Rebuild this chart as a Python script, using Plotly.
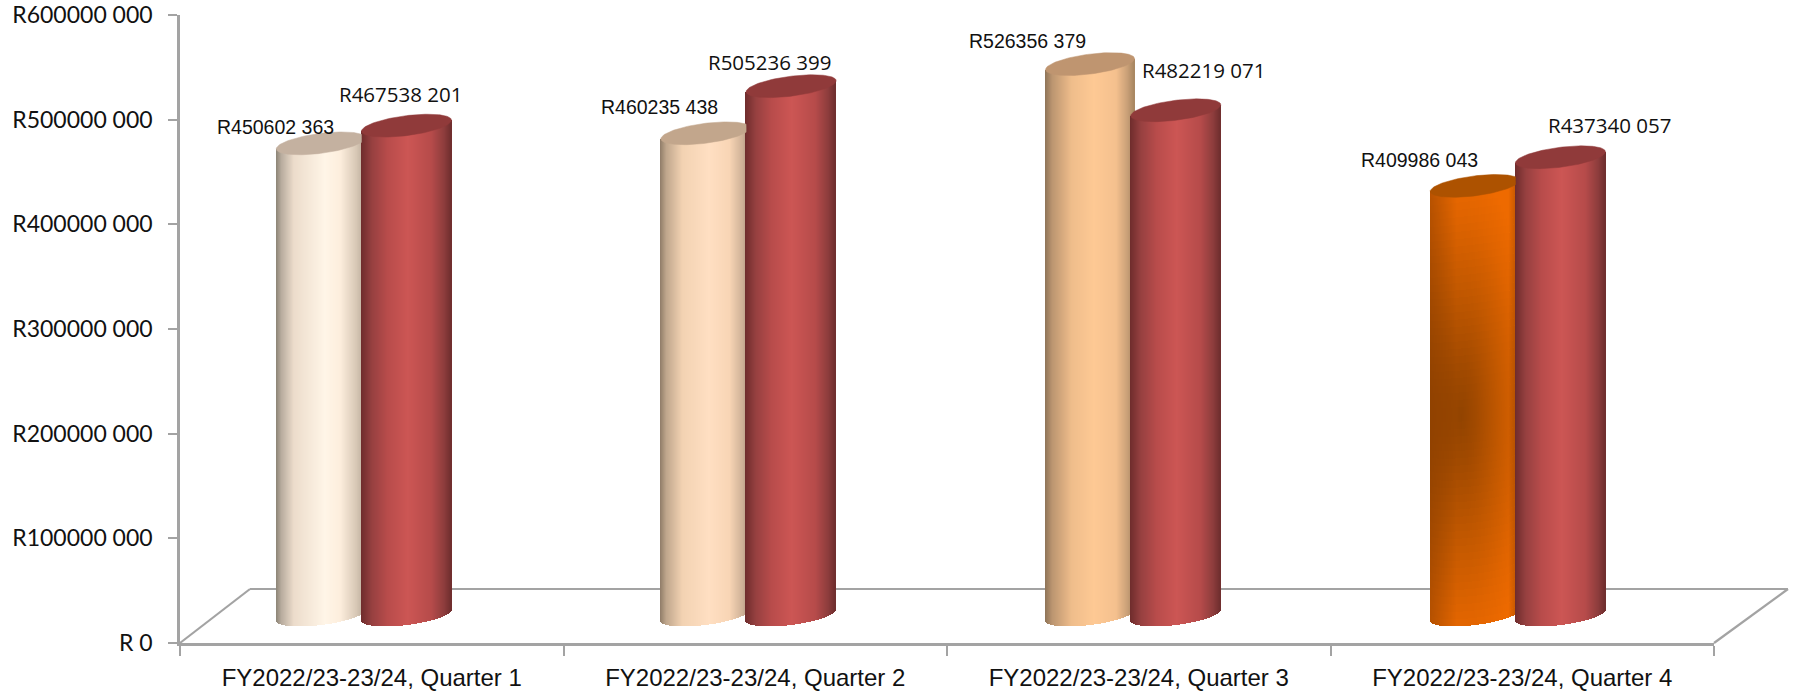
import math
import plotly.graph_objects as go

W, H = 1794, 696

# ---------- data ----------
categories = ["FY2022/23-23/24, Quarter 1", "FY2022/23-23/24, Quarter 2",
              "FY2022/23-23/24, Quarter 3", "FY2022/23-23/24, Quarter 4"]
series_first = [450602363, 460235438, 526356379, 409986043]
series_second = [467538201, 505236399, 482219071, 437340057]
value_ticks = [0, 100000000, 200000000, 300000000, 400000000, 500000000, 600000000]
value_tick_labels = ["R 0", "R100000 000", "R200000 000", "R300000 000",
                     "R400000 000", "R500000 000", "R600000 000"]
first_labels = ["R450602 363", "R460235 438", "R526356 379", "R409986 043"]
second_labels = ["R467538 201", "R505236 399", "R482219 071", "R437340 057"]

# ---------- geometry of the plot in pixels ----------
X0, X4, Y0, Y600 = 180, 1714, 643, 15
PX_X = (X4 - X0) / 4.0              # pixels per category
PX_Y = (Y0 - Y600) / 600e6          # pixels per rand
AXIS = "#a3a3a3"

FIRST_OFF, SECOND_OFF = -0.131, 0.0925
FIRST_W, SECOND_W = 44.5, 45.0      # half widths, px
SHEAR, BULGE = 5.5, 10.0            # ellipse shear / half height, px
LIFT = 28.0                         # base of cylinders above the axis, px


def hexrgb(h):
    return tuple(int(h[i:i + 2], 16) for i in (1, 3, 5))


def ramp(stops, t):
    t = max(0.0, min(1.0, t))
    for (a, ca), (b, cb) in zip(stops, stops[1:]):
        if t <= b:
            f = (t - a) / (b - a) if b > a else 0
            ca, cb = hexrgb(ca), hexrgb(cb)
            return tuple(ca[i] + (cb[i] - ca[i]) * f for i in range(3))
    return hexrgb(stops[-1][1])


def css(c):
    return "rgb(%d,%d,%d)" % tuple(round(v) for v in c)


red_stops = [(0, "#6e2c2c"), (0.12, "#964040"), (0.3, "#b94c4b"), (0.52, "#cc5654"),
             (0.78, "#b64b4a"), (0.92, "#8e3d3d"), (1, "#6f2e2e")]
cream_stops = [(0, "#8c8476"), (0.06, "#b8ac9e"), (0.2, "#ecdccb"), (0.55, "#fff5e7"),
               (0.72, "#fdeedd"), (0.9, "#d8c8b6"), (1, "#b8a998")]
peach_stops = [(0, "#8f7c68"), (0.07, "#bfa68c"), (0.25, "#f2d2b2"), (0.55, "#ffdfc2"),
               (0.78, "#f8d5b5"), (0.93, "#cdb096"), (1, "#a8917c")]
tan_stops = [(0, "#8e7458"), (0.08, "#bb9570"), (0.3, "#efbd8b"), (0.55, "#fec994"),
             (0.8, "#f4c08e"), (0.93, "#c79e76"), (1, "#a88660")]
orange_rad = [(0, "#914300"), (0.2, "#a24a00"), (0.5, "#c25800"), (0.8, "#e06400"), (1, "#ee6a00")]

first_style = [(cream_stops, "#c4b1a0"), (peach_stops, "#c2a68c"),
               (tan_stops, "#bf9570"), (None, "#ad5200")]
RED_CAP = "#903a3a"


def y_of(px_up):
    return px_up / PX_Y


def orange_colour(u, py):
    r = math.hypot((u - 0.35) / 0.85, (py - 415) / 250.0)
    c = ramp(orange_rad, r)
    edge = 1.0
    if u > 0.88:
        edge = 1 - (u - 0.88) * 2.0
    elif u < 0.3:
        edge = 0.78 + 0.22 * u / 0.3
    return tuple(v * edge for v in c)


def add_cylinder(fig, centre, half_px, value, stops, cap, bands=1, clip_right=None):
    """Draws a cylinder of height `value` from 1px vertical bars plus an elliptical cap."""
    half = half_px / PX_X
    n = int(2 * half_px)
    step = 2 * half / n
    base = y_of(LIFT)
    for k in range(bands):
        xs, bs, hs, cols = [], [], [], []
        for i in range(n):
            u = (i + 0.5) / n
            t = 2 * u - 1
            bottom = base + y_of(SHEAR * t - BULGE * math.sqrt(1 - t * t))
            top = base + value + y_of(SHEAR * t)
            lo = bottom + (top - bottom) * k / bands
            hi = bottom + (top - bottom) * (k + 1) / bands
            xs.append(centre + t * half)
            bs.append(lo)
            hs.append(hi - lo)
            if stops is None:
                cols.append(css(orange_colour(u, Y0 - PX_Y * (lo + hi) / 2)))
            else:
                cols.append(css(ramp(stops, u)))
        fig.add_trace(go.Bar(x=xs, y=hs, base=bs, width=step * 1.35,
                             marker=dict(color=cols, line=dict(width=0)),
                             hoverinfo="skip", showlegend=False))
    cx, cy = [], []
    for j in range(121):
        th = 2 * math.pi * j / 120
        t = math.cos(th)
        x = centre + half * t
        if clip_right is not None:
            x = min(x, clip_right)
        cx.append(x)
        cy.append(base + value + y_of(SHEAR * t + BULGE * math.sin(th)))
    fig.add_trace(go.Scatter(x=cx, y=cy, mode="lines", fill="toself", fillcolor=cap,
                             line=dict(width=0.5, color=cap), hoverinfo="skip",
                             showlegend=False))


fig = go.Figure()
positions = [i + 0.5 for i in range(len(categories))]
group_nudge = [-0.002, 0.001, 0.004, 0.007]
for p, nudge, a, b, (stops, cap) in zip(positions, group_nudge, series_first, series_second, first_style):
    red_left = p + nudge + SECOND_OFF - SECOND_W / PX_X
    add_cylinder(fig, p + nudge + FIRST_OFF, FIRST_W, a, stops, cap, bands=1 if stops else 60,
                 clip_right=red_left if a < b else None)
    add_cylinder(fig, p + nudge + SECOND_OFF, SECOND_W, b, red_stops, RED_CAP)

# data labels: (dx, up) in px from the top centre of each cylinder
first_label_shift = [(-46, 16), (-46, 26), (-61, 23), (-53, 26)]
second_label_shift = [(-7, 32), (-21, 24), (29, 40), (52, 32)]
annotations = []
for p, a, txt, (dx, up) in zip(positions, series_first, first_labels, first_label_shift):
    annotations.append(dict(x=p + FIRST_OFF, y=a + y_of(LIFT), text=txt, showarrow=False,
                            xshift=dx, yshift=up, xanchor="center", yanchor="middle",
                            font=dict(family="Liberation Sans", size=19.5, color="#111")))
for p, b, txt, (dx, up) in zip(positions, series_second, second_labels, second_label_shift):
    annotations.append(dict(x=p + SECOND_OFF, y=b + y_of(LIFT), text=txt, showarrow=False,
                            xshift=dx, yshift=up, xanchor="center", yanchor="middle",
                            font=dict(family="Open Sans", size=20.5, color="#111")))


def paper(px, py):
    return px / W, 1 - py / H


floor = [(X0, Y0), (250, 589), (1788, 589), (X4, Y0)]
shapes = []
for (ax, ay), (bx, by) in zip(floor, floor[1:]):
    x0, y0 = paper(ax, ay)
    x1, y1 = paper(bx, by)
    shapes.append(dict(type="line", xref="paper", yref="paper", x0=x0, y0=y0, x1=x1, y1=y1,
                       layer="below", line=dict(color=AXIS, width=2.2)))

fig.update_layout(
    width=W, height=H, margin=dict(l=0, r=0, t=0, b=0, autoexpand=False),
    paper_bgcolor="white", plot_bgcolor="rgba(0,0,0,0)", barmode="overlay", bargap=0,
    showlegend=False, annotations=annotations, shapes=shapes,
    xaxis=dict(domain=[X0 / W, X4 / W], range=[0, 4], tickmode="array",
               tickvals=positions, ticktext=categories, ticks="", showgrid=False, zeroline=False,
               showline=True, linecolor=AXIS, linewidth=2.5, ticklabelstandoff=11,
               tickfont=dict(family="Liberation Sans", size=24, color="#111"),
               minor=dict(tickmode="array", tickvals=[0, 1, 2, 3, 4], ticks="outside",
                          ticklen=10, tickwidth=2, tickcolor=AXIS, showgrid=False)),
    yaxis=dict(domain=[1 - Y0 / H, 1 - Y600 / H], range=[0, 600e6], tickmode="array",
               tickvals=value_ticks, ticktext=value_tick_labels, ticks="outside", ticklen=9,
               tickwidth=2, tickcolor=AXIS, showgrid=False, zeroline=False,
               showline=True, linecolor=AXIS, linewidth=2.5, ticklabelstandoff=11,
               tickfont=dict(family="Lato", size=23, color="#111")),
)

fig.write_html("out.html", post_script="document.body.style.margin='0';",
               config=dict(displayModeBar=False))
